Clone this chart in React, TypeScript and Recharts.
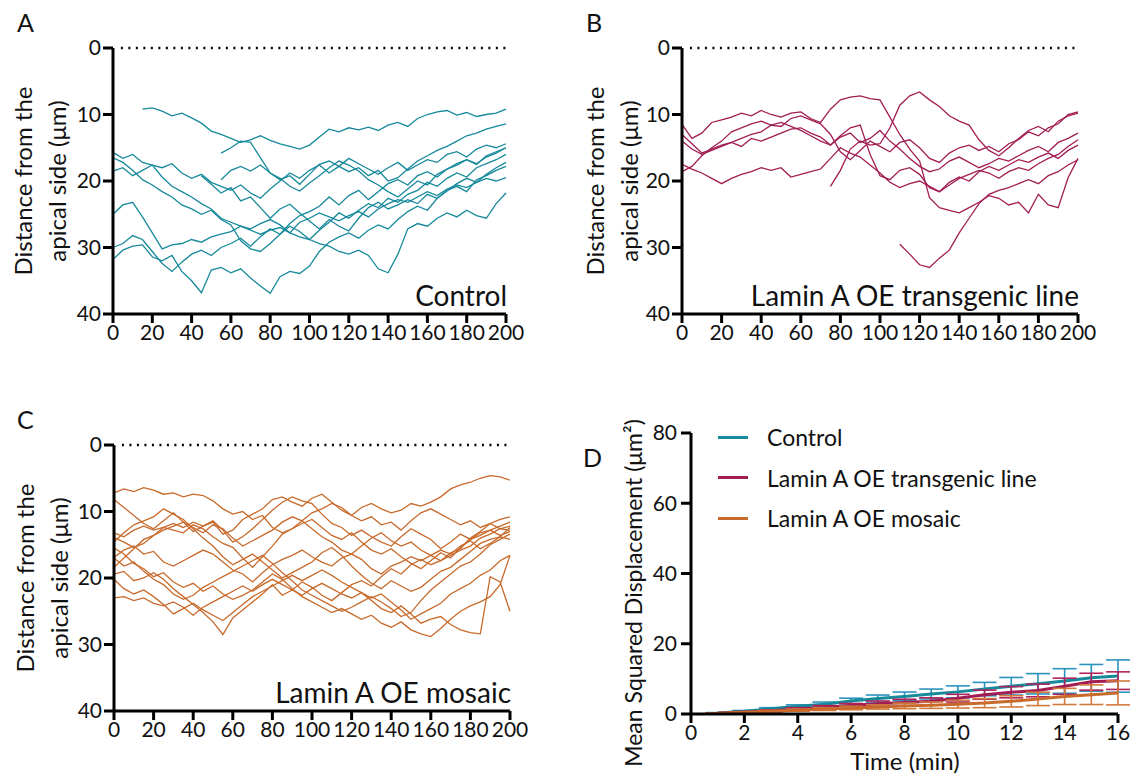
import React from 'react';
import { LineChart, Line, XAxis, YAxis, ReferenceLine, ErrorBar } from 'recharts';

const FONT = 'Lato, "Open Sans", sans-serif';

// sampling grid of the track panels (min)
const TIME = [0, 5, 10, 15, 20, 25, 30, 35, 40, 45, 50, 55, 60, 65, 70, 75, 80, 85, 90, 95, 100,
  105, 110, 115, 120, 125, 130, 135, 140, 145, 150, 155, 160, 165, 170, 175, 180, 185, 190, 195, 200];
const X_TICKS = [0, 20, 40, 60, 80, 100, 120, 140, 160, 180, 200];
const Y_TICKS = [0, 10, 20, 30, 40];

// A - Control tracks (distance from apical side, µm)
const A1 = [9.2, 9.0, 9.5, 10.2, 9.8, 10.5, 11.3, 12.5, 13.0, 13.6, 14.2, 13.8, 13.2, 13.9, 14.4, 14.8, 15.2, 14.6, 13.4, 12.2, 12.6, 12.0, 12.3, 11.9, 12.4, 11.6, 11.2, 11.8, 10.6, 10.0, 9.6, 9.4, 10.1, 9.7, 10.3, 10.0, 9.8, 9.2];
const A2 = [15.8, 15.0, 14.0, 14.2, 16.5, 18.8, 19.8, 19.2, 20.5, 19.0, 17.5, 17.0, 17.8, 18.6, 18.0, 19.2, 18.4, 20.0, 19.5, 18.2, 17.0, 16.2, 15.4, 14.8, 14.0, 13.2, 12.8, 12.2, 11.8, 11.4];
const A3 = [19.8, 18.4, 17.8, 18.5, 17.6, 18.8, 19.6, 20.8, 21.5, 20.3, 19.2, 18.0, 17.0, 17.6, 18.5, 19.8, 20.6, 21.6, 22.4, 21.2, 20.0, 20.6, 19.0, 18.2, 17.4, 16.8, 17.5, 16.2, 15.6, 15.0];
const A4 = [19.2, 20.5, 21.8, 21.0, 23.0, 22.4, 24.0, 25.6, 24.2, 23.5, 24.8, 26.0, 27.2, 25.8, 26.8, 27.5, 25.6, 24.0, 23.2, 24.2, 23.6, 22.8, 23.4, 22.0, 22.6, 21.5, 20.4, 19.6, 20.2, 19.0, 18.0, 17.2];
const A5 = [15.7, 16.6, 16.0, 17.2, 17.6, 18.0, 17.4, 18.8, 19.6, 19.0, 20.2, 20.8, 21.4, 20.6, 21.8, 22.6, 21.2, 20.0, 18.8, 19.6, 18.4, 17.6, 18.8, 17.8, 16.6, 17.4, 18.2, 19.0, 18.0, 17.2, 18.4, 17.6, 16.8, 17.2, 16.0, 15.6, 16.4, 15.2, 14.6, 15.0, 14.4];
const A6 = [16.5, 17.2, 18.4, 19.8, 20.6, 21.6, 22.4, 23.6, 24.2, 25.0, 24.4, 25.8, 26.6, 29.0, 30.2, 30.6, 29.4, 28.0, 26.8, 27.6, 28.8, 27.4, 26.2, 24.8, 25.6, 24.4, 23.4, 24.0, 22.6, 23.2, 22.0, 21.4, 20.2, 20.8, 19.6, 18.8, 19.4, 18.0, 17.4, 16.8, 16.0];
const A7 = [18.5, 18.0, 19.2, 18.4, 17.6, 19.4, 20.8, 21.6, 22.4, 23.4, 24.2, 25.6, 26.2, 26.8, 27.4, 28.0, 27.4, 27.0, 27.8, 28.4, 28.8, 29.4, 29.8, 30.6, 31.0, 30.4, 31.2, 33.2, 33.8, 31.0, 27.2, 26.4, 26.8, 25.6, 24.8, 25.4, 24.4, 25.2, 25.6, 23.4, 21.8];
const A8 = [25.0, 23.6, 23.2, 25.4, 27.8, 30.2, 29.6, 29.4, 28.8, 29.2, 28.4, 28.0, 27.6, 26.8, 27.2, 26.4, 25.8, 26.6, 27.8, 26.2, 25.6, 24.8, 25.4, 26.0, 25.2, 24.6, 25.4, 24.2, 23.4, 22.8, 23.2, 22.4, 21.6, 22.2, 21.2, 20.6, 21.0, 20.2, 19.6, 20.0, 19.5];
const A9 = [31.8, 30.4, 29.8, 29.6, 31.4, 32.0, 31.2, 33.6, 35.0, 36.8, 33.4, 33.0, 33.8, 33.2, 34.6, 35.8, 36.9, 34.4, 33.6, 33.9, 32.8, 30.6, 29.2, 28.4, 27.8, 28.6, 27.4, 26.6, 27.2, 25.8, 24.6, 23.8, 24.4, 22.6, 21.4, 20.8, 21.6, 19.8, 19.2, 18.4, 17.8];
const A10 = [30.0, 29.4, 28.2, 28.8, 30.6, 32.4, 33.6, 32.2, 31.0, 30.4, 31.2, 30.0, 29.4, 28.6, 29.8, 28.4, 27.2, 28.0, 26.4, 25.2, 24.6, 23.8, 22.4, 23.6, 22.2, 21.4, 22.8, 21.6, 20.4, 19.8, 20.6, 19.2, 18.6, 19.4, 18.2, 17.6, 16.8, 17.4, 16.4, 15.8, 15.0];
const A_TRACKS = [A1, A2, A3, A4, A5, A6, A7, A8, A9, A10];
const A_START = [15, 55, 55, 45, 0, 0, 0, 0, 0, 0];

// B - Lamin A OE transgenic line tracks
const B1 = [11.5, 13.6, 12.8, 11.2, 10.8, 10.4, 9.8, 10.2, 9.4, 10.0, 10.4, 9.8, 9.6, 10.6, 11.2, 9.2, 7.8, 7.4, 7.2, 7.6, 7.8, 10.4, 13.0, 15.2, 17.0, 22.5, 24.0, 24.4, 24.8, 24.0, 23.2, 22.2, 22.6, 23.6, 23.2, 24.8, 22.0, 23.6, 24.0, 19.5, 16.6];
const B2 = [13.0, 14.4, 15.8, 15.2, 14.6, 14.2, 14.8, 13.6, 14.0, 13.4, 12.8, 12.2, 12.0, 12.8, 13.4, 14.6, 13.2, 12.0, 11.6, 16.0, 19.2, 19.8, 18.4, 18.0, 19.0, 21.0, 21.6, 20.2, 19.4, 20.0, 18.6, 17.8, 18.4, 17.6, 16.8, 17.2, 16.4, 15.8, 16.6, 15.4, 14.6];
const B3 = [14.0, 15.2, 16.0, 15.4, 14.8, 14.2, 13.6, 13.0, 12.6, 11.6, 11.8, 10.6, 10.2, 10.8, 11.4, 13.0, 15.6, 16.8, 15.4, 14.0, 14.8, 15.6, 14.2, 13.8, 15.0, 16.6, 17.2, 15.8, 15.0, 14.6, 15.4, 14.8, 15.6, 14.4, 13.8, 12.6, 13.2, 12.0, 11.4, 10.0, 9.6];
const B4 = [17.5, 18.2, 18.8, 19.6, 20.4, 19.6, 19.0, 18.6, 18.0, 18.4, 18.0, 19.4, 19.0, 18.6, 18.2, 16.6, 15.0, 15.8, 16.4, 17.6, 18.8, 20.2, 21.0, 20.4, 20.0, 20.8, 21.6, 20.6, 19.6, 19.0, 18.4, 18.8, 19.6, 18.6, 18.0, 18.4, 17.4, 16.6, 16.0, 14.8, 13.8];
const B5 = [18.6, 17.8, 16.2, 15.0, 14.0, 12.6, 12.0, 11.4, 11.0, 11.6, 11.2, 11.8, 12.4, 13.2, 14.0, 14.6, 13.4, 12.8, 14.2, 13.6, 12.4, 14.0, 15.2, 16.6, 17.8, 18.6, 18.2, 17.0, 16.4, 17.2, 18.0, 17.4, 16.6, 17.0, 16.2, 15.4, 14.8, 15.6, 14.2, 13.6, 12.8];
const B6 = [20.8, 18.4, 15.2, 14.0, 14.6, 14.4, 12.0, 8.6, 7.2, 6.6, 7.8, 8.8, 10.2, 11.0, 11.6, 13.8, 15.4, 16.2, 15.0, 13.6, 12.4, 11.8, 12.6, 11.0, 10.2, 9.8];
const B7 = [29.5, 31.0, 32.6, 33.0, 31.6, 30.4, 27.8, 25.6, 23.4, 22.0, 21.4, 21.0, 20.4, 19.8, 20.4, 19.2, 18.6, 17.6, 16.8];
const B_TRACKS = [B1, B2, B3, B4, B5, B6, B7];
const B_START = [0, 0, 0, 0, 0, 75, 110];

// C - Lamin A OE mosaic tracks
const C1 = [7.2, 6.6, 7.0, 6.4, 6.8, 7.4, 7.2, 7.8, 7.4, 7.6, 8.4, 9.6, 10.4, 10.0, 11.2, 10.6, 12.4, 13.2, 12.6, 11.4, 10.2, 9.6, 8.8, 9.4, 10.6, 11.4, 10.8, 12.0, 11.6, 12.8, 11.4, 10.2, 9.6, 10.4, 11.2, 12.0, 11.4, 12.4, 11.8, 12.6, 12.2];
const C2 = [8.2, 9.4, 10.6, 11.8, 12.6, 11.4, 10.2, 11.6, 13.0, 12.2, 11.6, 13.4, 12.8, 11.2, 10.4, 9.6, 8.2, 7.8, 8.6, 9.2, 8.0, 7.4, 8.6, 9.8, 10.6, 9.4, 8.8, 9.6, 10.2, 9.8, 8.8, 9.2, 8.6, 7.8, 6.6, 6.0, 5.6, 5.0, 4.6, 4.8, 5.3];
const C3 = [13.2, 13.8, 12.8, 12.2, 12.8, 12.4, 11.8, 12.4, 11.6, 12.2, 11.4, 12.8, 14.6, 13.8, 12.6, 11.2, 9.8, 8.6, 7.8, 8.4, 8.8, 10.4, 11.8, 12.4, 13.6, 12.8, 13.8, 14.6, 15.2, 13.8, 12.6, 13.4, 14.2, 15.6, 14.6, 13.4, 14.2, 13.2, 12.8, 13.6, 13.0];
const C4 = [13.9, 14.6, 15.4, 14.8, 13.6, 12.4, 12.8, 13.2, 12.0, 12.6, 13.8, 14.8, 15.4, 17.0, 18.4, 16.8, 15.2, 13.4, 12.6, 11.8, 11.2, 12.4, 13.6, 14.2, 13.2, 14.6, 15.8, 16.4, 15.6, 16.8, 17.8, 18.6, 17.4, 16.2, 17.0, 15.4, 14.2, 13.6, 12.8, 12.2, 11.6];
const C5 = [16.9, 15.8, 15.2, 16.4, 16.0, 17.6, 18.2, 17.4, 16.6, 15.8, 16.4, 17.6, 18.8, 19.4, 20.6, 19.2, 18.0, 17.2, 16.6, 15.8, 16.8, 17.6, 18.2, 17.0, 16.4, 17.2, 18.6, 19.4, 18.2, 17.6, 16.8, 17.4, 16.6, 15.8, 16.4, 15.2, 14.4, 15.6, 14.8, 13.8, 14.2];
const C6 = [18.4, 17.0, 15.6, 14.2, 13.6, 12.8, 12.2, 11.6, 12.4, 13.2, 12.0, 12.6, 14.0, 15.2, 14.4, 13.6, 12.8, 11.6, 10.8, 11.4, 12.6, 13.8, 14.6, 15.8, 16.4, 15.2, 14.0, 13.2, 14.4, 15.2, 14.6, 15.8, 16.6, 17.4, 16.2, 15.6, 14.0, 13.0, 11.8, 11.2, 10.8];
const C7 = [19.4, 19.0, 20.4, 20.0, 19.2, 20.2, 21.6, 22.8, 24.0, 25.2, 26.6, 28.5, 26.0, 24.8, 23.6, 22.4, 21.0, 22.6, 21.8, 20.6, 21.4, 22.6, 23.4, 22.2, 21.0, 20.4, 21.2, 19.8, 18.6, 19.4, 18.0, 17.2, 18.0, 17.4, 16.6, 15.8, 15.2, 14.0, 13.4, 12.6, 12.8];
const C8 = [23.0, 22.8, 23.4, 23.0, 23.8, 24.2, 23.6, 24.4, 25.6, 24.4, 23.6, 22.8, 22.0, 21.2, 22.0, 21.0, 20.2, 21.0, 21.8, 22.6, 21.6, 20.8, 21.6, 22.4, 23.0, 22.2, 23.4, 24.6, 25.2, 24.2, 25.4, 26.8, 26.2, 25.8, 27.0, 27.8, 28.2, 28.4, 19.8, 20.6, 25.0];
const C9 = [15.5, 16.4, 17.8, 18.6, 19.8, 19.2, 20.6, 21.4, 20.8, 22.0, 21.2, 22.4, 23.2, 22.6, 21.8, 20.6, 19.4, 20.2, 21.6, 22.8, 23.6, 24.4, 25.2, 24.6, 25.4, 26.2, 25.6, 26.8, 27.4, 26.6, 27.8, 28.4, 28.8, 27.6, 26.2, 25.0, 24.2, 23.6, 22.8, 21.0, 16.6];
const C10 = [17.0, 18.2, 17.6, 19.0, 20.2, 21.0, 22.4, 23.2, 22.6, 21.4, 20.6, 19.8, 19.0, 18.2, 17.4, 16.6, 17.8, 19.2, 20.4, 21.8, 22.6, 23.4, 24.2, 25.0, 24.4, 23.6, 22.8, 23.6, 24.6, 25.8, 25.2, 23.4, 21.8, 20.6, 19.4, 18.2, 17.6, 16.4, 15.0, 14.2, 13.4];
const C11 = [14.6, 13.2, 12.0, 11.4, 10.8, 9.6, 10.4, 11.2, 12.6, 14.0, 15.2, 16.8, 18.0, 17.2, 16.4, 17.6, 18.8, 20.0, 19.2, 18.4, 17.6, 16.2, 15.4, 16.6, 18.2, 19.6, 20.8, 21.6, 20.4, 21.2, 22.0, 21.4, 20.2, 19.0, 18.4, 17.2, 16.0, 14.8, 14.2, 13.8, 12.4];
const C12 = [20.2, 21.6, 22.4, 21.8, 22.8, 24.0, 25.4, 24.6, 23.8, 24.8, 25.6, 26.4, 25.2, 24.0, 22.8, 22.0, 21.2, 20.4, 19.6, 20.4, 19.6, 18.8, 19.6, 20.6, 21.4, 22.2, 23.0, 22.4, 23.6, 24.8, 26.2, 25.4, 24.6, 23.8, 22.4, 21.6, 20.8, 19.6, 18.8, 17.4, 16.6];
const C_TRACKS = [C1, C2, C3, C4, C5, C6, C7, C8, C9, C10, C11, C12];
const C_START = [0, 0, 0, 0, 0, 0, 0, 0, 0, 0, 0, 0];

// D - mean squared displacement (µm²), mean and SD per time lag
const MSD_TIME = [1, 2, 3, 4, 5, 6, 7, 8, 9, 10, 11, 12, 13, 14, 15, 16];
const CTRL = [0.3, 0.8, 1.5, 2.2, 2.8, 3.7, 4.4, 5.0, 5.7, 6.3, 7.1, 7.9, 8.6, 9.4, 10.3, 10.8];
const CTRL_ERR = [0.1, 0.2, 0.3, 0.4, 0.6, 0.8, 1.0, 1.25, 1.4, 1.7, 1.9, 2.5, 2.9, 3.5, 3.8, 4.6];
const TG = [0.2, 0.5, 0.9, 1.4, 1.9, 2.4, 2.9, 3.3, 3.6, 4.5, 5.5, 6.2, 6.7, 7.9, 9.2, 9.5];
const TG_ERR = [0.1, 0.2, 0.3, 0.4, 0.5, 0.6, 0.8, 0.9, 1.0, 1.1, 1.3, 1.6, 1.8, 2.3, 2.4, 2.5];
const MOS = [0.2, 0.5, 0.8, 1.1, 1.4, 1.7, 2.0, 2.3, 2.5, 2.8, 3.1, 3.6, 4.3, 5.0, 5.5, 6.0];
const MOS_ERR = [0.1, 0.1, 0.2, 0.3, 0.4, 0.5, 0.6, 0.8, 0.9, 1.1, 1.3, 1.6, 1.9, 2.3, 2.8, 3.4];

const TEAL = '#16899b';
const MAGENTA = '#a11d52';
const ORANGE = '#c86a2b';

const LEGEND = [
  { name: 'Control', color: TEAL },
  { name: 'Lamin A OE transgenic line', color: MAGENTA },
  { name: 'Lamin A OE mosaic', color: ORANGE },
];

const buildRows = (tracks: number[][], starts: number[]) =>
  TIME.map((t) => {
    const row: Record<string, number | null> = { t };
    tracks.forEach((vals, k) => {
      const idx = (t - starts[k]) / 5;
      row['s' + k] = idx >= 0 && idx < vals.length ? vals[idx] : null;
    });
    return row;
  });

const msdRows = MSD_TIME.map((t, i) => ({
  t, ctrl: CTRL[i], ctrlErr: CTRL_ERR[i], tg: TG[i], tgErr: TG_ERR[i], mos: MOS[i], mosErr: MOS_ERR[i],
}));

const AX = { stroke: '#000', strokeWidth: 3 };
const TICK = { fill: '#111', fontSize: 21, fontFamily: FONT };

interface PanelProps {
  left: number;
  top: number;
  yw: number;
  right: number;
  rows: Record<string, number | null>[];
  count: number;
  color: string;
  letter: string;
  label: string;
  titleX: number;
}

const TracePanel: React.FC<PanelProps> = ({ left, top, yw, right, rows, count, color, letter, label, titleX }) => (
  <div style={{ position: 'absolute', left, top, width: 540, height: 360 }}>
    <LineChart width={540} height={360} data={rows} margin={{ top: 48, right, bottom: 16, left: 0 }}>
      <XAxis dataKey="t" type="number" domain={[0, 200]} ticks={X_TICKS} interval={0} height={30}
        axisLine={AX} tickLine={AX} tickSize={9} tick={TICK} />
      <YAxis type="number" reversed domain={[0, 40]} ticks={Y_TICKS} interval={0} width={yw}
        axisLine={AX} tickLine={AX} tickSize={10} tickMargin={2} tick={TICK} />
      <ReferenceLine segment={[{ x: 4, y: 0 }, { x: 200, y: 0 }]} stroke="#000" strokeWidth={2.5} strokeDasharray="2 5.5" />
      {Array.from({ length: count }, (_, k) => (
        <Line key={k} dataKey={'s' + k} stroke={color} strokeWidth={1.3} dot={false} activeDot={false}
          isAnimationActive={false} connectNulls={false} />
      ))}
    </LineChart>
    <div style={{ position: 'absolute', left: titleX, top: 181, transform: 'translate(-50%, -50%) rotate(-90deg)',
      fontFamily: FONT, fontSize: 24, lineHeight: '34px', textAlign: 'center', whiteSpace: 'nowrap', color: '#111' }}>
      Distance from the<br />apical side (μm)
    </div>
    <div style={{ position: 'absolute', left: 17, top: 10, fontFamily: FONT, fontSize: 25, lineHeight: 1, color: '#111' }}>{letter}</div>
    <div style={{ position: 'absolute', right: right - 1, top: 281, fontFamily: FONT, fontSize: 28, lineHeight: 1,
      whiteSpace: 'nowrap', color: '#111' }}>{label}</div>
  </div>
);

const MsdPanel: React.FC = () => (
  <div style={{ position: 'absolute', left: 569, top: 397, width: 564, height: 379 }}>
    <LineChart width={564} height={379} data={msdRows} margin={{ top: 36, right: 15, bottom: 32, left: 0 }}>
      <XAxis dataKey="t" type="number" domain={[0, 16]} ticks={[0, 2, 4, 6, 8, 10, 12, 14, 16]} interval={0} height={30}
        axisLine={AX} tickLine={AX} tickSize={9} tick={TICK} />
      <YAxis type="number" domain={[0, 80]} ticks={[0, 20, 40, 60, 80]} interval={0} width={122}
        axisLine={AX} tickLine={AX} tickSize={10} tickMargin={4} tick={TICK} />
      <Line dataKey="ctrl" stroke={TEAL} strokeWidth={3} dot={false} activeDot={false} isAnimationActive={false}>
        <ErrorBar dataKey="ctrlErr" width={12} strokeWidth={1.6} stroke="#2a93bd" />
      </Line>
      <Line dataKey="tg" stroke={MAGENTA} strokeWidth={3} dot={false} activeDot={false} isAnimationActive={false}>
        <ErrorBar dataKey="tgErr" width={12} strokeWidth={1.6} stroke="#b0245c" />
      </Line>
      <Line dataKey="mos" stroke={ORANGE} strokeWidth={3} dot={false} activeDot={false} isAnimationActive={false}>
        <ErrorBar dataKey="mosErr" width={12} strokeWidth={1.6} stroke="#d27a3c" />
      </Line>
    </LineChart>
    {LEGEND.map((d, i) => (
      <div key={d.name} style={{ position: 'absolute', left: 149, top: 40 + i * 40.5 - 15, height: 30, display: 'flex',
        alignItems: 'center', fontFamily: FONT, fontSize: 23, color: '#111', whiteSpace: 'nowrap' }}>
        <span style={{ display: 'inline-block', width: 30, height: 3, background: d.color, marginRight: 19 }} />
        {d.name}
      </div>
    ))}
    <div style={{ position: 'absolute', left: 64, top: 196, transform: 'translate(-50%, -50%) rotate(-90deg)',
      fontFamily: FONT, fontSize: 23, whiteSpace: 'nowrap', color: '#111' }}>
      Mean Squared Displacement (μm²)
    </div>
    <div style={{ position: 'absolute', left: 336, top: 352, transform: 'translateX(-50%)', fontFamily: FONT,
      fontSize: 24, lineHeight: 1, whiteSpace: 'nowrap', color: '#111' }}>Time (min)</div>
    <div style={{ position: 'absolute', left: 14, top: 48, fontFamily: FONT, fontSize: 25, lineHeight: 1, color: '#111' }}>D</div>
  </div>
);

const App: React.FC = () => (
  <div style={{ position: 'absolute', left: 0, top: 0, width: 1133, height: 776, overflow: 'hidden', background: '#fff' }}>
    <TracePanel left={0} top={0} yw={113} right={34} rows={buildRows(A_TRACKS, A_START)} count={A_TRACKS.length}
      color={TEAL} letter="A" label="Control" titleX={40} />
    <TracePanel left={569} top={0} yw={113} right={31} rows={buildRows(B_TRACKS, B_START)} count={B_TRACKS.length}
      color={MAGENTA} letter="B" label="Lamin A OE transgenic line" titleX={43} />
    <TracePanel left={0} top={397} yw={114} right={30} rows={buildRows(C_TRACKS, C_START)} count={C_TRACKS.length}
      color={ORANGE} letter="C" label="Lamin A OE mosaic" titleX={42} />
    <MsdPanel />
  </div>
);

export default App;
